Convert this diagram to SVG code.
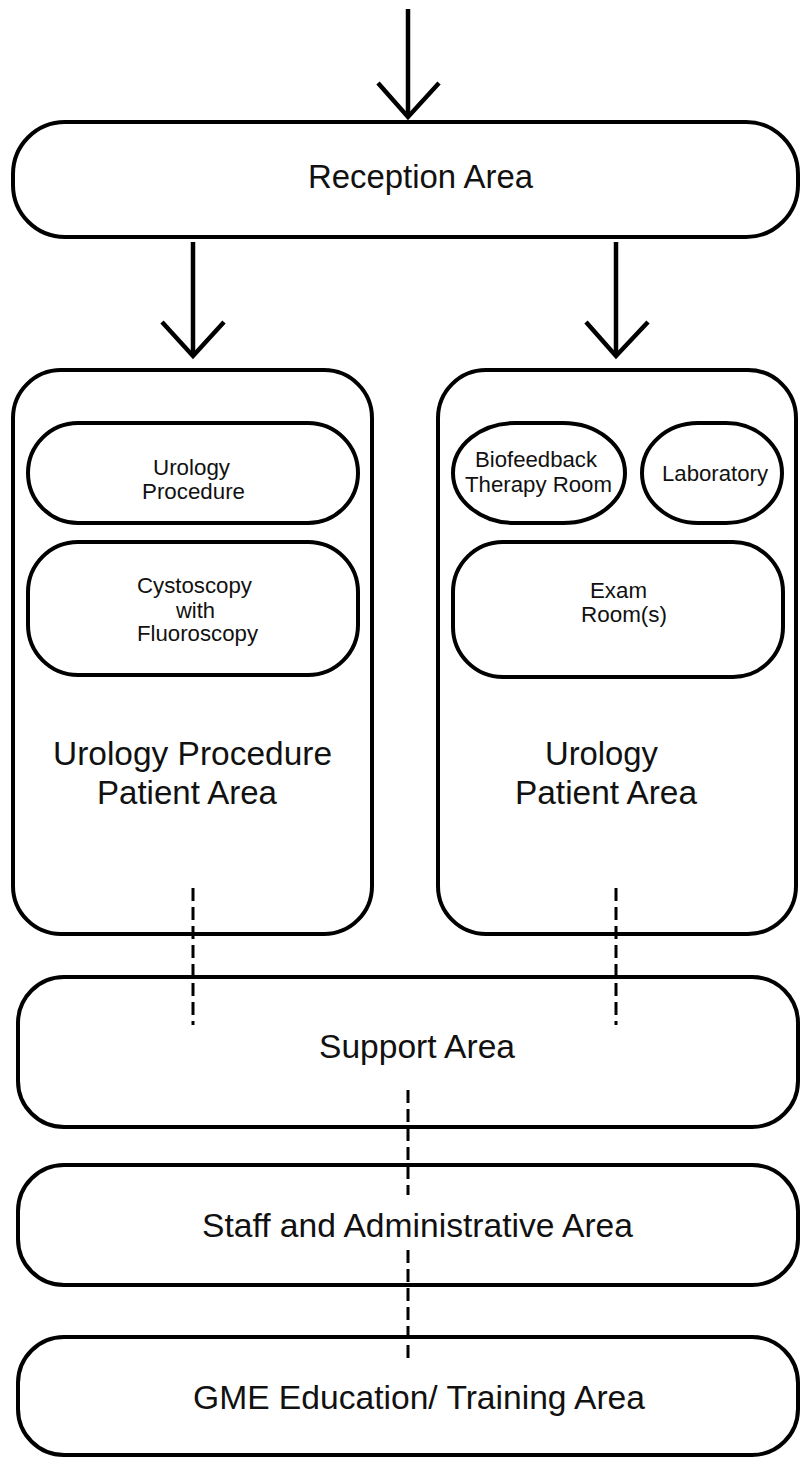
<svg xmlns="http://www.w3.org/2000/svg" width="800" height="1457" viewBox="0 0 800 1457">
<style>
.box{fill:#fff;stroke:#000;stroke-width:4}
.big{font-family:"Liberation Sans",Arial,sans-serif;font-size:33px;fill:#111}
.sm{font-family:"Liberation Sans",Arial,sans-serif;font-size:22px;fill:#111}
.arr{fill:none;stroke:#000;stroke-width:4.5}
.dash{fill:none;stroke:#000;stroke-width:3;stroke-dasharray:13 6}
</style>
<rect width="800" height="1457" fill="#fff"/>
<g id="reception">
<rect class="box" x="13" y="122" width="785" height="115" rx="52" ry="52"/>
<text class="big" x="308" y="188" textLength="225" lengthAdjust="spacingAndGlyphs">Reception Area</text>
</g>
<g id="left-area">
<rect class="box" x="13" y="370" width="359" height="564" rx="48" ry="48"/>
<text class="big" x="53" y="765" textLength="279" lengthAdjust="spacingAndGlyphs">Urology Procedure</text>
<text class="big" x="97" y="804" textLength="180" lengthAdjust="spacingAndGlyphs">Patient Area</text>
</g>
<g id="urology-procedure">
<rect class="box" x="28" y="423" width="330" height="100" rx="50" ry="50"/>
<text class="sm" x="153" y="475" textLength="77" lengthAdjust="spacingAndGlyphs">Urology</text>
<text class="sm" x="142" y="499" textLength="103" lengthAdjust="spacingAndGlyphs">Procedure</text>
</g>
<g id="cystoscopy">
<rect class="box" x="28" y="542" width="330" height="133" rx="50" ry="50"/>
<text class="sm" x="137" y="593" textLength="115" lengthAdjust="spacingAndGlyphs">Cystoscopy</text>
<text class="sm" x="176" y="618" textLength="39" lengthAdjust="spacingAndGlyphs">with</text>
<text class="sm" x="137" y="641" textLength="121" lengthAdjust="spacingAndGlyphs">Fluoroscopy</text>
</g>
<g id="right-area">
<rect class="box" x="438" y="370" width="358" height="564" rx="48" ry="48"/>
<text class="big" x="545" y="765" textLength="113" lengthAdjust="spacingAndGlyphs">Urology</text>
<text class="big" x="515" y="804" textLength="182" lengthAdjust="spacingAndGlyphs">Patient Area</text>
</g>
<g id="biofeedback">
<rect class="box" x="453" y="423" width="172" height="100" rx="62" ry="50"/>
<text class="sm" x="475" y="467" textLength="122" lengthAdjust="spacingAndGlyphs">Biofeedback</text>
<text class="sm" x="465" y="492" textLength="147" lengthAdjust="spacingAndGlyphs">Therapy Room</text>
</g>
<g id="laboratory">
<rect class="box" x="642" y="423" width="140" height="100" rx="56" ry="50"/>
<text class="sm" x="662" y="481" textLength="106" lengthAdjust="spacingAndGlyphs">Laboratory</text>
</g>
<g id="exam">
<rect class="box" x="453" y="542" width="330" height="135" rx="50" ry="50"/>
<text class="sm" x="590" y="598" textLength="57" lengthAdjust="spacingAndGlyphs">Exam</text>
<text class="sm" x="581" y="622" textLength="86" lengthAdjust="spacingAndGlyphs">Room(s)</text>
</g>
<g id="support">
<rect class="box" x="18" y="977" width="780" height="150" rx="46" ry="46"/>
<text class="big" x="319" y="1058" textLength="196" lengthAdjust="spacingAndGlyphs">Support Area</text>
</g>
<g id="staff">
<rect class="box" x="18" y="1165" width="780" height="120" rx="46" ry="46"/>
<text class="big" x="202" y="1237" textLength="431" lengthAdjust="spacingAndGlyphs">Staff and Administrative Area</text>
</g>
<g id="gme">
<rect class="box" x="18" y="1337" width="780" height="118" rx="46" ry="46"/>
<text class="big" x="193" y="1409" textLength="452" lengthAdjust="spacingAndGlyphs">GME Education/ Training Area</text>
</g>
<g id="connectors">
<line class="arr" x1="408" y1="9" x2="408" y2="117"/>
<polyline class="arr" points="378,83 408,117 439,83"/>
<line class="arr" x1="193" y1="242" x2="193" y2="356"/>
<polyline class="arr" points="162,322 193,356 224,322"/>
<line class="arr" x1="616" y1="242" x2="616" y2="356"/>
<polyline class="arr" points="586,322 616,356 648,322"/>
<line class="dash" x1="193" y1="888" x2="193" y2="1025"/>
<line class="dash" x1="616" y1="888" x2="616" y2="1025"/>
<line class="dash" x1="408" y1="1090" x2="408" y2="1195"/>
<line class="dash" x1="408" y1="1250" x2="408" y2="1362"/>
</g>
</svg>
